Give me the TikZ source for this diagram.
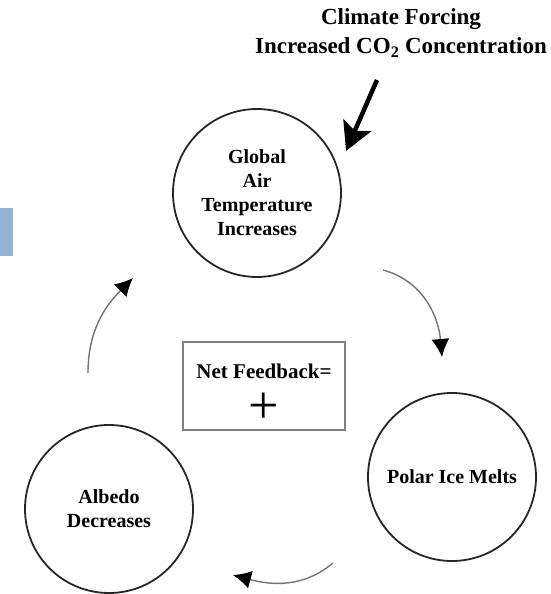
\documentclass[tikz,border=0pt]{standalone}
\usepackage{fontspec}
\setmainfont{Liberation Serif}
\usetikzlibrary{arrows.meta,positioning}
\definecolor{tabblue}{HTML}{93B3D1}

\begin{document}
\begin{tikzpicture}[x=1pt,y=1pt,on grid,thin]
\tikzstyle{stage}=[circle,draw=black!85,line width=1.8pt,minimum size=168pt,inner sep=0pt,text=black,align=center,font=\fontsize{20}{24}\selectfont\bfseries]
\tikzstyle{netbox}=[rectangle,draw=black!50,line width=2pt,minimum width=162pt,minimum height=88pt,align=center,font=\fontsize{21}{26}\selectfont\bfseries]
\tikzstyle{heading}=[align=center,inner sep=0pt,font=\fontsize{23}{29}\selectfont\bfseries]
\tikzstyle{cycle}=[-{Latex[length=18pt,width=18pt,color=black]},draw=black!55,line width=1.4pt]
\tikzstyle{forcing}=[-{Stealth[length=28pt,width=30pt,inset=6pt]},line width=4.5pt]

\useasboundingbox (0,0) rectangle (550,-594);
\fill[tabblue] (0,-208) rectangle (13,-256);

\node[stage]        (G) at (257,-193)                    {Global\\Air\\Temperature\\Increases};
\node[stage]        (P) [below right=284pt and 195pt of G] {Polar Ice Melts};
\node[stage]        (A) [below left=316pt and 148pt of G]  {Albedo\\Decreases};
\node[netbox]       (N) [below right=193pt and 7pt of G]   {\rule{0pt}{30pt}Net Feedback=\\[13pt]{\fontsize{54}{40}\selectfont\mdseries +}};
\node[heading]      (F) at (401,-33)                     {Climate Forcing\\Increased CO\textsubscript{2} Concentration};

% free ends of the arrows
\coordinate (f1) at (377,-80);
\coordinate (f2) at (346,-151);
\coordinate (g1) at (383,-270);
\coordinate (p1) at (442,-357);
\coordinate (p2) at (333,-563);
\coordinate (a2) at (233,-575);
\coordinate (a3) at (88,-373);
\coordinate (g3) at (133,-278);

\draw[forcing] (f1) -- (f2);
\draw[cycle] (g1) to[out=-15,in=95] (p1);
\draw[cycle] (p2) to[out=-140,in=-15] (a2);
\draw[cycle] (a3) to[out=90,in=-135] (g3);
\end{tikzpicture}
\end{document}
